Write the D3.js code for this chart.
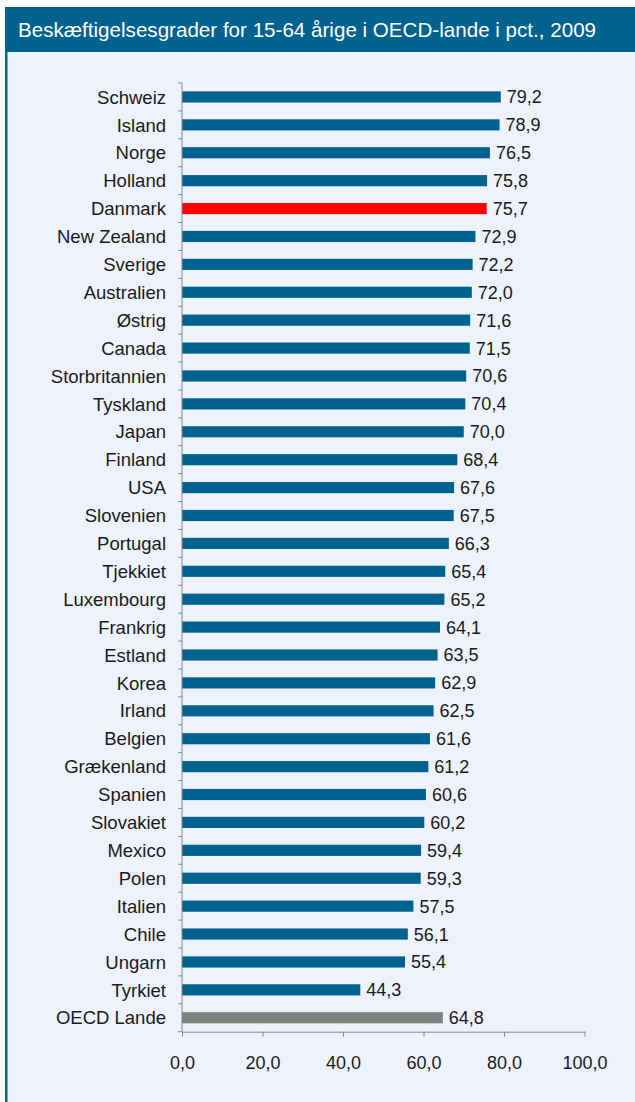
<!DOCTYPE html>
<html>
<head>
<meta charset="utf-8">
<script src="https://cdn.jsdelivr.net/npm/d3@7"></script>
<style>
  html, body { margin: 0; padding: 0; background: #fff; }
  svg { display: block; font-family: "Liberation Sans", Arial, sans-serif; }
</style>
</head>
<body>
<svg id="chart" width="635" height="1102"></svg>
<script>
// data
var title = "Beskæftigelsesgrader for 15-64 årige i OECD-lande i pct., 2009";
var countries = ["Schweiz", "Island", "Norge", "Holland", "Danmark", "New Zealand", "Sverige",
  "Australien", "Østrig", "Canada", "Storbritannien", "Tyskland", "Japan", "Finland", "USA",
  "Slovenien", "Portugal", "Tjekkiet", "Luxembourg", "Frankrig", "Estland", "Korea", "Irland",
  "Belgien", "Grækenland", "Spanien", "Slovakiet", "Mexico", "Polen", "Italien", "Chile",
  "Ungarn", "Tyrkiet", "OECD Lande"];
var values = [79.2, 78.9, 76.5, 75.8, 75.7, 72.9, 72.2, 72.0, 71.6, 71.5, 70.6, 70.4, 70.0,
  68.4, 67.6, 67.5, 66.3, 65.4, 65.2, 64.1, 63.5, 62.9, 62.5, 61.6, 61.2, 60.6, 60.2, 59.4,
  59.3, 57.5, 56.1, 55.4, 44.3, 64.8];
var xTicks = [0, 20, 40, 60, 80, 100];

var blue = "#00628f", red = "#ff0000", grey = "#808080";
var fmt = function(v) { return d3.format(".1f")(v).replace(".", ","); };

var svg = d3.select("#chart");
var W = 635, H = 1102;

// panel + title bar
svg.append("rect").attr("x", 5).attr("y", 7).attr("width", W - 5).attr("height", H - 7).attr("fill", "#eef2fd");
svg.append("rect").attr("x", 5).attr("y", 52).attr("width", 2.5).attr("height", H - 52).attr("fill", blue);
svg.append("rect").attr("x", 5).attr("y", 7).attr("width", W - 5).attr("height", 45).attr("fill", blue);
svg.append("text").attr("x", 18).attr("y", 37).attr("fill", "#fff")
  .style("font-size", "20.6px").text(title);

var margin = {top: 83, left: 182, right: 50, bottom: 70};
var x = d3.scaleLinear().domain([0, 100]).range([margin.left, 584.5]);
var y = d3.scaleBand().domain(countries).range([margin.top, 1031.7]).paddingInner(0.6).paddingOuter(0.3);

var g = svg.append("g");

g.selectAll("rect.bar")
  .data(countries)
  .enter().append("rect")
  .attr("class", "bar")
  .attr("x", x(0))
  .attr("y", function(d) { return y(d); })
  .attr("height", y.bandwidth())
  .attr("width", function(d, i) { return x(values[i]) - x(0); })
  .attr("fill", function(d) { return d == "Danmark" ? red : (d == "OECD Lande" ? grey : blue); });

g.selectAll("text.val")
  .data(countries)
  .enter().append("text")
  .attr("class", "val")
  .attr("x", function(d, i) { return x(values[i]) + 6; })
  .attr("y", function(d) { return y(d) + y.bandwidth() / 2; })
  .attr("dy", "0.36em")
  .attr("fill", "#1a1a1a")
  .style("font-size", "18px")
  .text(function(d, i) { return fmt(values[i]); });

// category axis (ticks between bands, excel style)
var step = y.step();
var yAx = g.append("g");
yAx.append("line").attr("x1", x(0)).attr("x2", x(0))
  .attr("y1", y.range()[0]).attr("y2", y.range()[1]).attr("stroke", "#888");
yAx.selectAll("line.tk")
  .data(d3.range(countries.length + 1))
  .enter().append("line")
  .attr("class", "tk")
  .attr("x1", x(0) - 4).attr("x2", x(0))
  .attr("y1", function(i) { return y.range()[0] + i * step; })
  .attr("y2", function(i) { return y.range()[0] + i * step; })
  .attr("stroke", "#888");
yAx.selectAll("text")
  .data(countries)
  .enter().append("text")
  .attr("x", x(0) - 16)
  .attr("y", function(d) { return y(d) + y.bandwidth() / 2; })
  .attr("dy", "0.36em")
  .attr("text-anchor", "end")
  .attr("fill", "#1a1a1a")
  .style("font-size", "18.5px")
  .text(function(d) { return d; });

// value axis
var xAxis = d3.axisBottom(x).tickValues(xTicks).tickSize(5).tickSizeOuter(0).tickPadding(20).tickFormat(fmt);
var xg = g.append("g").attr("transform", "translate(0," + y.range()[1] + ")").call(xAxis);
xg.select(".domain").attr("stroke", "#888");
xg.selectAll(".tick line").attr("stroke", "#888");
xg.selectAll(".tick text").attr("fill", "#1a1a1a").style("font-size", "18px").style("font-family", "Liberation Sans, Arial, sans-serif");
</script>
</body>
</html>
